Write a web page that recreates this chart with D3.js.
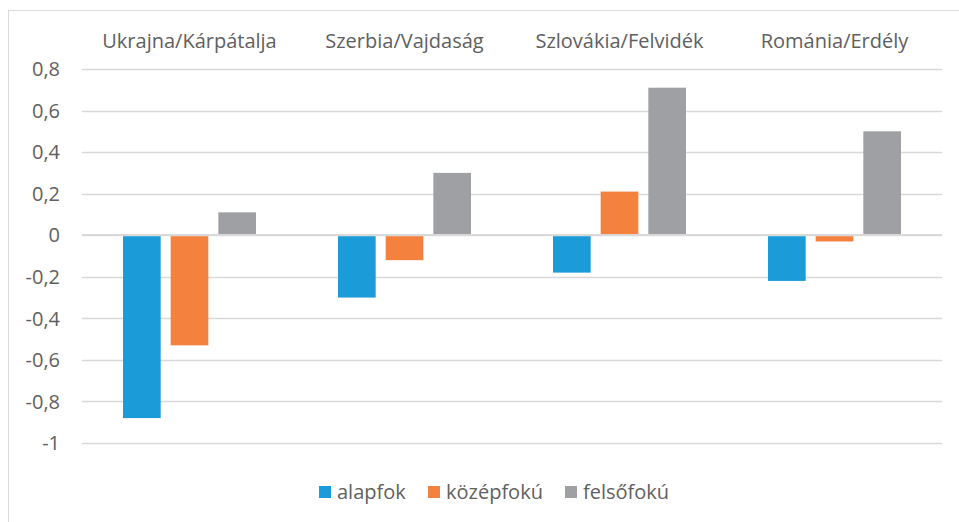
<!DOCTYPE html>
<html>
<head>
<meta charset="utf-8">
<script src="https://cdn.jsdelivr.net/npm/d3@7"></script>
<style>
  body { margin: 0; background: #fff; }
  svg text { font-family: "Open Sans", Lato, sans-serif; fill: #606060; }
</style>
</head>
<body>
<div id="chart"></div>
<script>
const categories = ["Ukrajna/Kárpátalja", "Szerbia/Vajdaság", "Szlovákia/Felvidék", "Románia/Erdély"];
const seriesNames = ["alapfok", "középfokú", "felsőfokú"];
const alapfok = [-0.88, -0.30, -0.18, -0.22];
const kozepfoku = [-0.53, -0.12, 0.21, -0.03];
const felsofoku = [0.11, 0.30, 0.71, 0.50];
const yTicks = [0.8, 0.6, 0.4, 0.2, 0, -0.2, -0.4, -0.6, -0.8, -1];
const colors = ["#1b9bd8", "#f5813f", "#9ea0a3"];

const seriesValues = [alapfok, kozepfoku, felsofoku];
const width = 959, height = 522;
const plot = { left: 82, right: 942, top: 69, bottom: 443 };
const fontSize = 20;

const svg = d3.select("#chart").append("svg")
    .attr("width", width)
    .attr("height", height);

// outer chart border (cropped at right and bottom)
svg.append("rect")
    .attr("x", 8.5).attr("y", 10.5)
    .attr("width", 960).attr("height", 520)
    .attr("fill", "none")
    .attr("stroke", "#d9d9d9");

const y = d3.scaleLinear().domain([-1, 0.8]).range([plot.bottom, plot.top]);
const x0 = d3.scaleBand().domain(categories).range([plot.left, plot.right]);
const groupW = 133;
const x1 = d3.scaleBand().domain(seriesNames)
    .range([(x0.bandwidth() - groupW) / 2, (x0.bandwidth() + groupW) / 2])
    .paddingInner(0.21);

// gridlines
svg.append("g").selectAll("line")
    .data(yTicks.filter(d => d !== 0))
    .join("line")
    .attr("x1", plot.left).attr("x2", plot.right)
    .attr("y1", d => Math.round(y(d)) + 0.5)
    .attr("y2", d => Math.round(y(d)) + 0.5)
    .attr("stroke", "#d9d9d9")
    .attr("stroke-width", 1.3);

// y labels
const fmt = d => d3.format(".1f")(d).replace("\u2212", "-").replace(".", ",").replace(/,0$/, "");
svg.append("g").selectAll("text")
    .data(yTicks)
    .join("text")
    .attr("x", 60)
    .attr("y", d => y(d))
    .attr("dy", "0.36em")
    .attr("text-anchor", "end")
    .attr("font-size", fontSize)
    .text(fmt);

// bars
const rows = categories.map((c, i) => ({ cat: c, vals: seriesNames.map((s, j) => ({ s, v: seriesValues[j][i], j })) }));

svg.append("g").selectAll("g")
    .data(rows)
    .join("g")
    .attr("transform", d => `translate(${x0(d.cat)},0)`)
    .selectAll("rect")
    .data(d => d.vals)
    .join("rect")
    .attr("x", d => x1(d.s))
    .attr("width", x1.bandwidth())
    .attr("y", d => y(Math.max(0, d.v)))
    .attr("height", d => Math.abs(y(d.v) - y(0)))
    .attr("fill", d => colors[d.j]);

// zero line on top
svg.append("line")
    .attr("x1", plot.left).attr("x2", plot.right)
    .attr("y1", y(0)).attr("y2", y(0))
    .attr("stroke", "#d9d9d9")
    .attr("stroke-width", 2.2);

// category labels at top
svg.append("g").selectAll("text")
    .data(categories)
    .join("text")
    .attr("x", d => x0(d) + x0.bandwidth() / 2)
    .attr("y", 48)
    .attr("text-anchor", "middle")
    .attr("font-size", fontSize)
    .text(d => d);

// legend
const legendX = [319, 428, 565];
const legend = svg.append("g").selectAll("g")
    .data(seriesNames)
    .join("g")
    .attr("transform", (d, i) => `translate(${legendX[i]},486)`);
legend.append("rect")
    .attr("width", 12).attr("height", 12)
    .attr("fill", (d, i) => colors[i]);
legend.append("text")
    .attr("x", 18).attr("y", 6)
    .attr("dy", "0.36em")
    .attr("font-size", fontSize)
    .text(d => d);
</script>
</body>
</html>
